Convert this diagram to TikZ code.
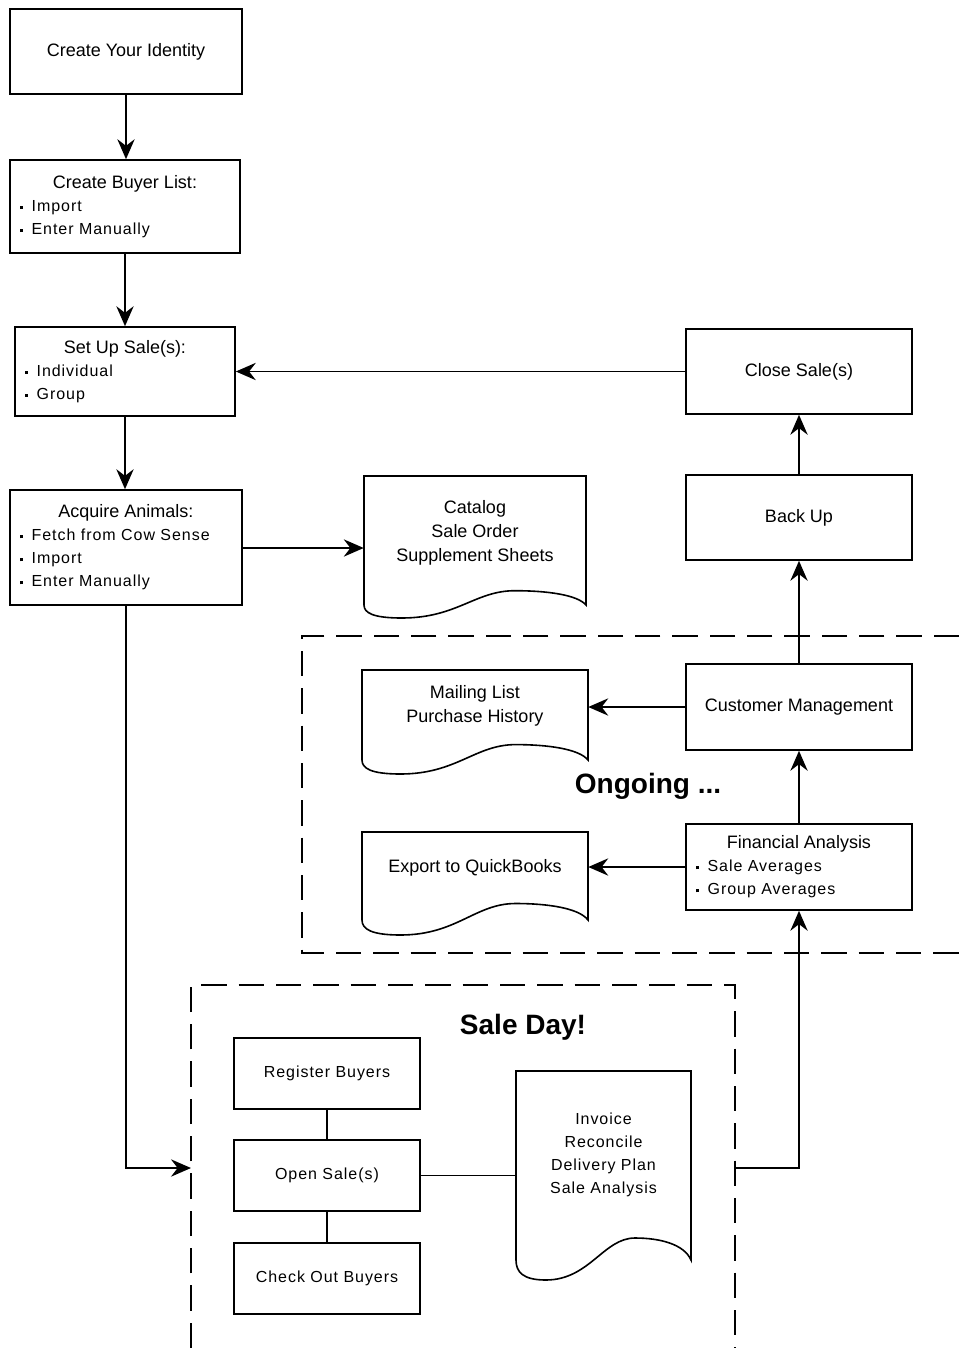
\documentclass[tikz,border=0pt]{standalone}
\usepackage{fontspec}
\setmainfont{Liberation Sans}
\newfontfamily\bitfont[LetterSpace=6]{Liberation Sans}
\usetikzlibrary{arrows.meta,calc}
\newcommand\bul{\raisebox{0.3ex}{\rule{2.2pt}{2.2pt}}\hspace{6.5pt}}
\newcommand\mainsz{\fontsize{13.5}{17.25}\selectfont}
\newcommand\bitsz{\bitfont\fontsize{12}{17.25}\selectfont}
\newcommand\blist[3]{\begin{minipage}{#1}\mainsz\centering #2\par\raggedright\bitsz #3\end{minipage}}
% node spanning the pixel rectangle x1,y1,x2,y2
\newcommand\bx[7]{\node[#1, minimum width={(#5-#3)*0.75pt}, minimum height={(#6-#4)*0.75pt}] (#2) at ({(#3+#5)/2},{(#4+#6)/2}) {#7};}
% document outline: x1, y1 (top), x2, yb (bottom of left side), amplitude
\newcommand\docoutline[5]{%
  \pgfmathsetmacro\dw{#3-#1}%
  \draw[ln] (#1,#2) -- (#3,#2) -- (#3,{#4})
    .. controls ({#3-0.04*\dw},{#4-0.8*#5}) and ({#1+0.82*\dw},{#4-1.1*#5}) .. ({#1+0.68*\dw},{#4-1.1*#5})
    .. controls ({#1+0.5*\dw},{#4-1.1*#5}) and ({#1+0.42*\dw},{#4+#5}) .. ({#1+0.17*\dw},{#4+#5})
    .. controls ({#1+0.04*\dw},{#4+#5}) and (#1,{#4+0.6*#5}) .. (#1,#4) -- cycle;}
\begin{document}
\begin{tikzpicture}[x=0.75pt,y=-0.75pt,
  ln/.style={line width=1.2pt},
  box/.style={draw, ln, inner sep=0pt, align=center, font=\mainsz},
  bbox/.style={draw, ln, inner sep=0pt, align=center, font=\bitsz},
  doc/.style={inner sep=0pt, align=center, font=\fontsize{13.5}{18}\selectfont},
  bdoc/.style={inner sep=0pt, align=center, font=\bitsz},
  arr/.style={ln, -{Stealth[length=15pt,width=13pt,inset=5pt]}},
  dashbox/.style={ln, dash pattern=on 19pt off 9pt},
  title/.style={font=\fontsize{21}{25}\selectfont\bfseries}]
\useasboundingbox (0,0) rectangle (959,1348);

% dashed regions
\draw[dashbox] (959,636) -- (302,636) -- (302,953) -- (959,953);
\draw[dashbox] (191,1348) -- (191,985) -- (735,985) -- (735,1348);
\node[title] (ongoing) at (648,786) {Ongoing ...};
\node[title] (saleday) at (523,1027) {Sale Day!};

% left column
\bx{box}{identity}{10}{9}{242}{94}{Create Your Identity}
\bx{box}{buyer}{10}{160}{240}{253}{\blist{157.5pt}{Create Buyer List:}{\bul Import\par\bul Enter Manually}}
\bx{box}{setup}{15}{327}{235}{416}{\blist{150pt}{Set Up Sale(s):}{\bul Individual\par\bul Group}}
\bx{box}{acquire}{10}{490}{242}{605}{\blist{159pt}{Acquire Animals:}{\bul Fetch from Cow Sense\par\bul Import\par\bul Enter Manually}}

% right column
\bx{box}{close}{686}{329}{912}{414}{Close Sale(s)}
\bx{box}{backup}{686}{475}{912}{560}{Back Up}
\bx{box}{customer}{686}{664}{912}{750}{Customer Management}
\bx{box}{finance}{686}{824}{912}{910}{\blist{154.5pt}{Financial Analysis}{\bul Sale Averages\par\bul Group Averages}}

% documents
\docoutline{364}{476}{586}{605}{13}
\bx{doc}{catalog}{364}{476}{586}{590}{Catalog\\Sale Order\\Supplement Sheets}
\docoutline{362}{670}{588}{760}{14}
\bx{doc}{mailing}{362}{670}{588}{742}{Mailing List\\Purchase History}
\docoutline{362}{832}{588}{920}{15}
\bx{doc}{export}{362}{832}{588}{904}{Export to QuickBooks}
\docoutline{516}{1071}{691}{1260}{20}
\bx{bdoc}{invoice}{516}{1071}{691}{1238}{Invoice\\Reconcile\\Delivery Plan\\Sale Analysis}

% sale day boxes
\bx{bbox}{register}{234}{1038}{420}{1109}{Register Buyers}
\bx{bbox}{opensale}{234}{1140}{420}{1211}{Open Sale(s)}
\bx{bbox}{checkout}{234}{1243}{420}{1314}{Check Out Buyers}

\coordinate (sdin) at (191,1168);
\coordinate (sdout) at (735,1168);

% connectors
\draw[arr] (identity.south) -- (identity.south |- buyer.north);
\draw[arr] (buyer.south) -- (buyer.south |- setup.north);
\draw[arr] (setup.south) -- (setup.south |- acquire.north);
\draw[arr] (acquire.east |- 0,548) -- (catalog.west |- 0,548);
\draw[arr] (close.west) -- (close.west -| setup.east);
\draw[arr] (backup.north) -- (close.south);
\draw[arr] (customer.north) -- (backup.south);
\draw[arr] (finance.north) -- (customer.south);
\draw[arr] (customer.west) -- (customer.west -| mailing.east);
\draw[arr] (finance.west) -- (finance.west -| export.east);
\draw[arr] (acquire.south) |- (sdin);
\draw[arr] (sdout) -| (finance.south);
\draw[ln] (register.south) -- (opensale.north);
\draw[ln] (opensale.south) -- (checkout.north);
\draw[ln] (opensale.east) -- (opensale.east -| invoice.west);
\end{tikzpicture}
\end{document}
